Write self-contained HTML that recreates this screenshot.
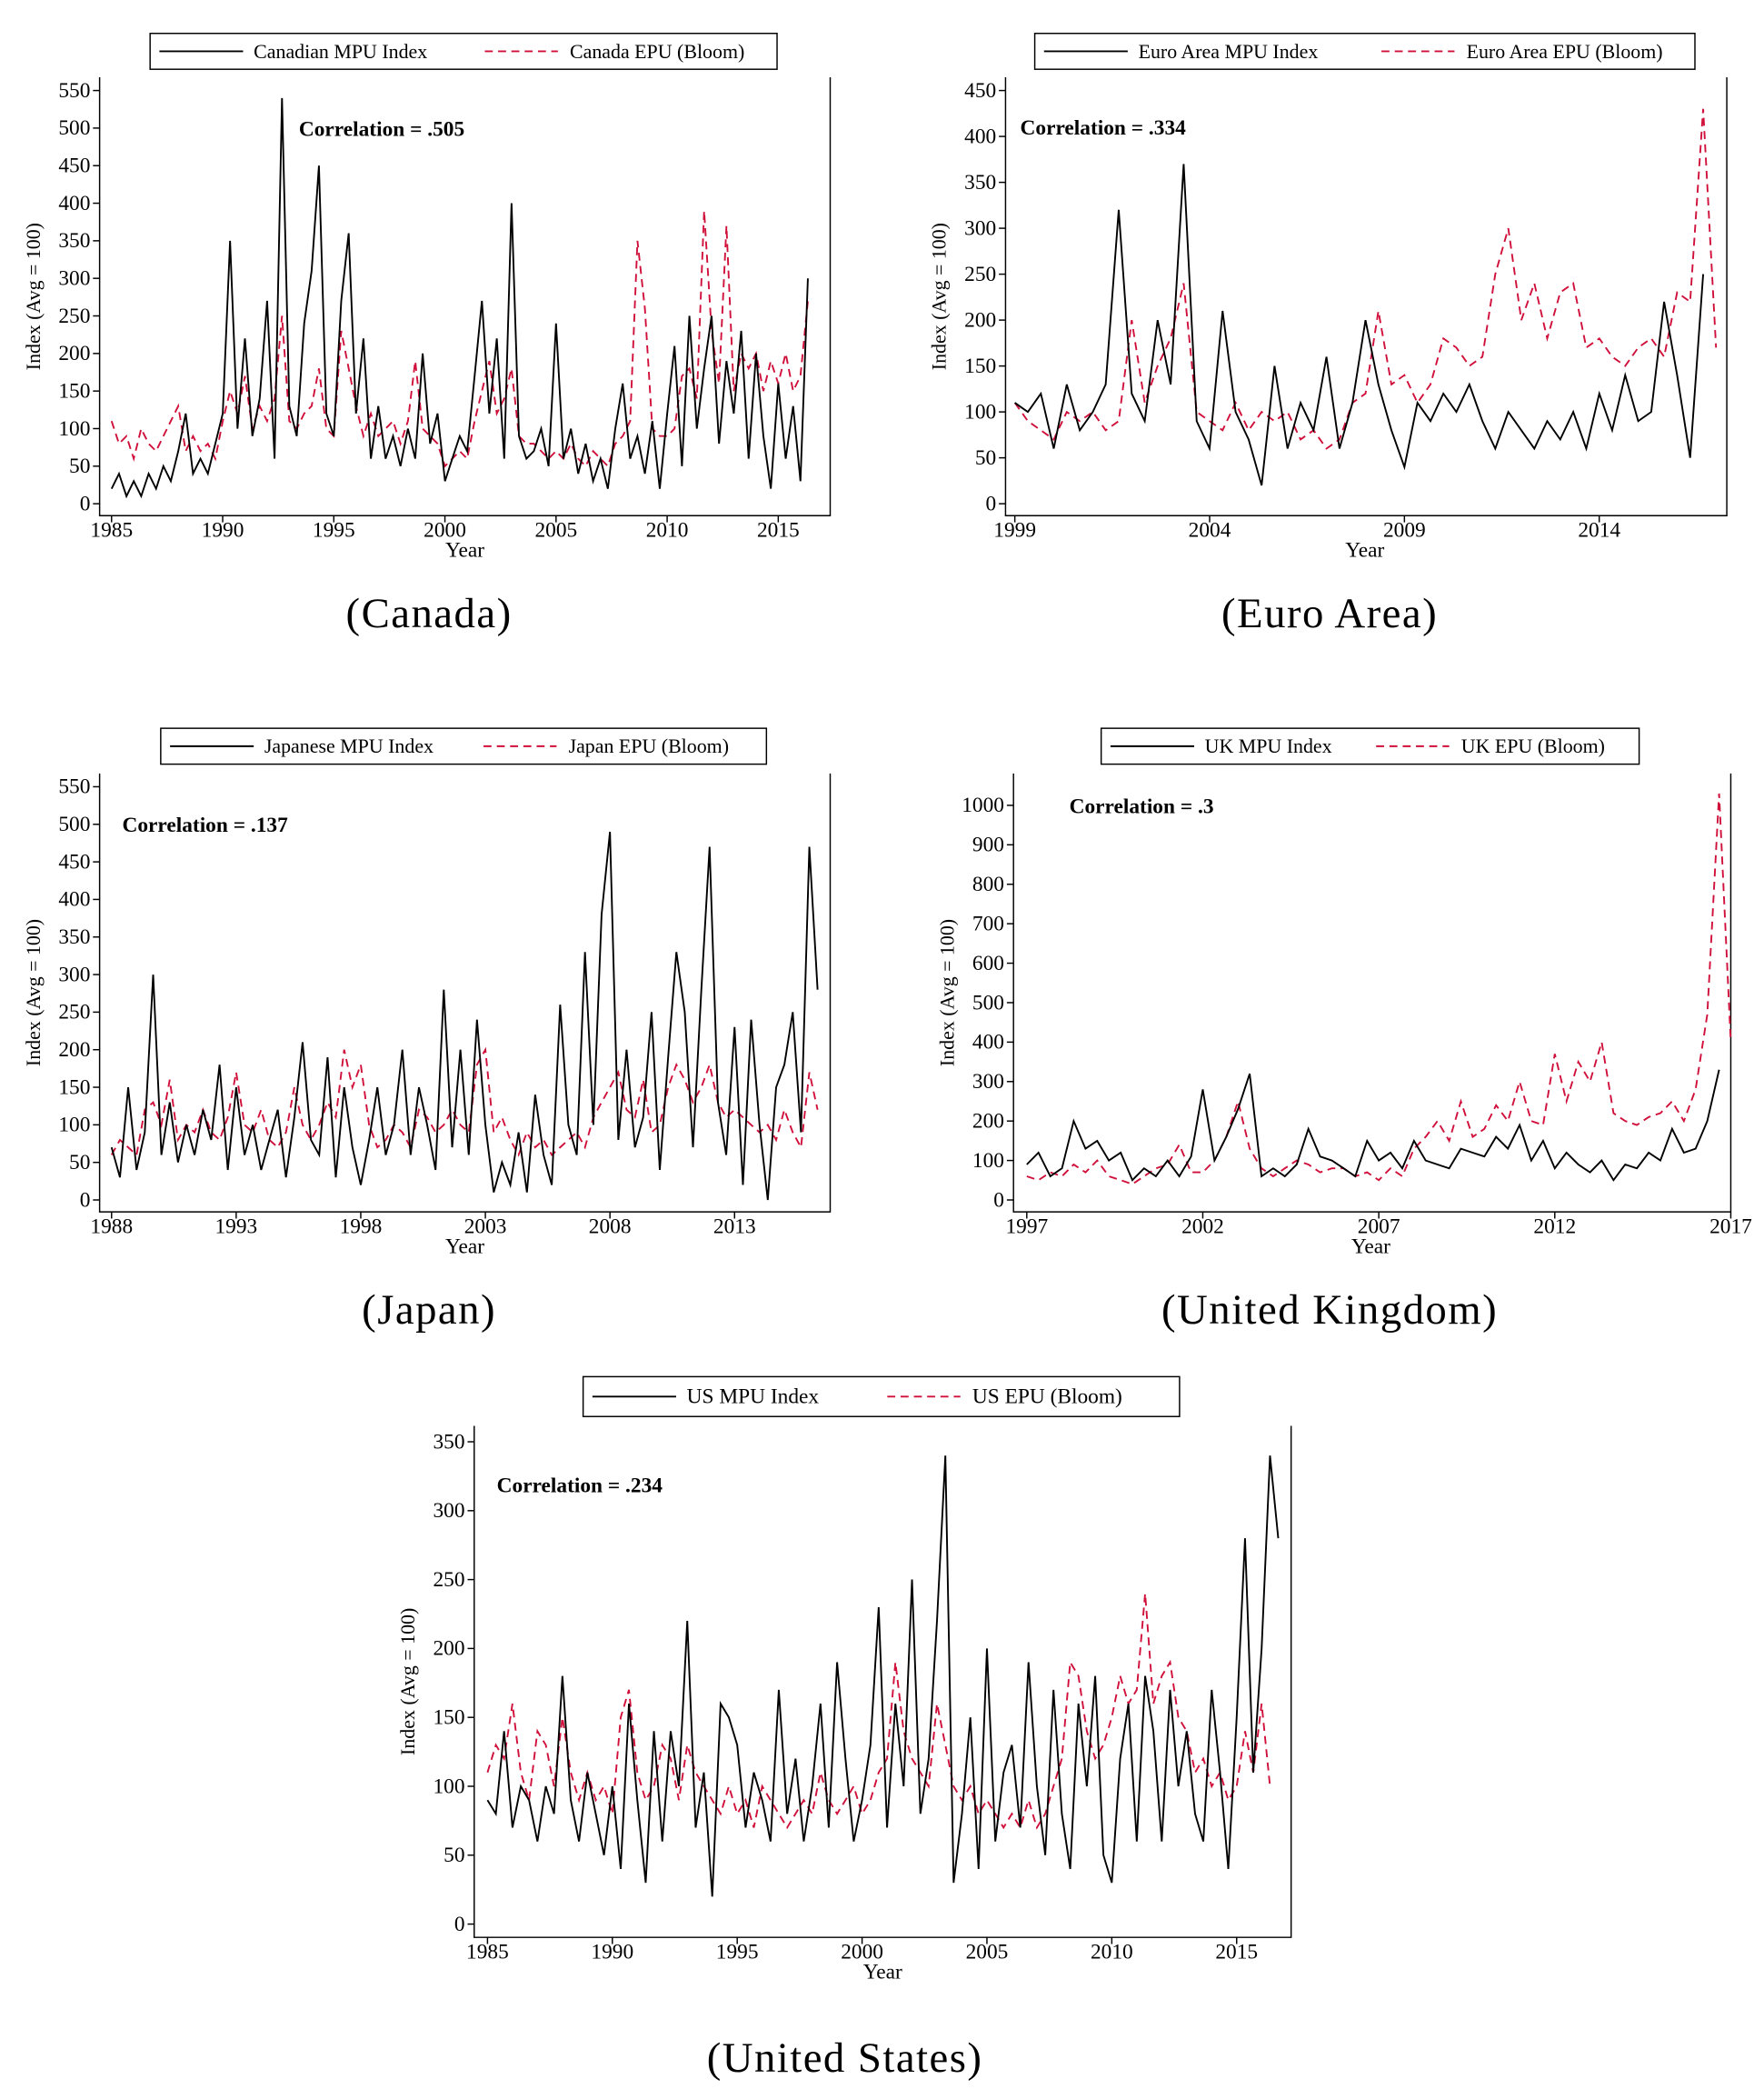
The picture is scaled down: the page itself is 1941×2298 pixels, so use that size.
<!DOCTYPE html>
<html><head><meta charset="utf-8"><style>
html,body{margin:0;padding:0;background:#fff;}
svg{display:block;}
text{font-family:"Liberation Serif",serif;fill:#000;}
</style></head><body>
<svg id="fig" width="1941" height="2298" viewBox="0 0 1328 1572" xmlns="http://www.w3.org/2000/svg"></svg>
<script>
// ---- data (sampled ~3 points per year) ----
const caMPU=[20,40,10,30,10,40,20,50,30,70,120,40,60,40,80,120,350,100,220,90,140,270,60,540,130,90,240,310,450,120,90,270,360,120,220,60,130,60,90,50,100,60,200,80,120,30,60,90,70,170,270,120,220,60,400,90,60,70,100,50,240,60,100,40,80,30,60,20,100,160,60,90,40,110,20,120,210,50,250,100,180,250,80,190,120,230,60,200,90,20,160,60,130,30,300];
const caEPU=[110,80,90,60,100,80,70,90,110,130,70,90,70,80,60,110,150,120,170,100,130,110,140,250,110,100,120,130,180,100,90,230,180,130,90,120,90,100,110,80,110,190,100,90,80,50,60,70,60,110,150,190,120,140,180,90,80,80,70,60,70,60,80,60,50,70,60,50,80,90,110,350,260,100,90,90,100,170,180,140,390,230,160,370,150,200,180,200,150,190,160,200,150,170,270];
const euMPU=[110,100,120,60,130,80,100,130,320,120,90,200,130,370,90,60,210,100,70,20,150,60,110,80,160,60,110,200,130,80,40,110,90,120,100,130,90,60,100,80,60,90,70,100,60,120,80,140,90,100,220,140,50,250];
const euEPU=[110,90,80,70,100,90,100,80,90,200,110,150,180,240,100,90,80,110,80,100,90,100,70,80,60,70,110,120,210,130,140,110,130,180,170,150,160,250,300,200,240,180,230,240,170,180,160,150,170,180,160,230,220,430,170];
const jpMPU=[70,30,150,40,90,300,60,130,50,100,60,120,80,180,40,150,60,100,40,80,120,30,110,210,80,60,190,30,150,70,20,80,150,60,100,200,60,150,100,40,280,70,200,60,240,100,10,50,20,90,10,140,60,20,260,100,60,330,100,380,490,80,200,70,110,250,40,190,330,250,70,280,470,130,60,230,20,240,100,0,150,180,250,90,470,280];
const jpEPU=[60,80,70,60,120,130,100,160,80,100,90,120,90,80,110,170,100,90,120,80,70,90,150,100,80,100,130,110,200,150,180,100,70,80,100,90,70,120,110,90,100,120,100,90,180,200,90,110,80,60,90,70,80,60,70,80,90,70,110,130,150,170,120,110,160,90,100,150,180,160,130,150,180,130,110,120,110,100,90,100,80,120,90,70,170,120];
const ukMPU=[90,120,60,80,200,130,150,100,120,50,80,60,100,60,110,280,100,160,230,320,60,80,60,90,180,110,100,80,60,150,100,120,80,150,100,90,80,130,120,110,160,130,190,100,150,80,120,90,70,100,50,90,80,120,100,180,120,130,200,330];
const ukEPU=[60,50,70,60,90,70,100,60,50,40,60,80,90,140,70,70,100,160,250,130,80,60,80,100,90,70,80,80,60,70,50,80,60,130,160,200,150,250,160,180,240,200,300,200,190,370,250,350,300,400,220,200,190,210,220,250,200,280,470,1030,400];
const usMPU=[90,80,140,70,100,90,60,100,80,180,90,60,110,80,50,100,40,160,90,30,140,60,140,100,220,70,110,20,160,150,130,70,110,90,60,170,80,120,60,100,160,70,190,120,60,90,130,230,70,160,100,250,80,120,220,340,30,80,150,40,200,60,110,130,70,190,100,50,170,80,40,160,100,180,50,30,120,160,60,180,140,60,170,100,140,80,60,170,110,40,150,280,110,200,340,280];
const usEPU=[110,130,120,160,110,90,140,130,100,150,110,90,110,90,100,80,150,170,110,90,100,130,120,90,130,110,100,90,80,100,80,90,70,100,90,80,70,80,90,80,110,90,80,90,100,80,90,110,120,190,140,120,110,100,160,130,100,90,100,80,90,80,70,80,70,90,70,80,100,120,190,180,140,120,130,150,180,160,170,240,160,180,190,150,140,110,120,100,110,90,100,140,110,160,100];
const caTicksY=[0,50,100,150,200,250,300,350,400,450,500,550];
const caTicksX=[1985,1990,1995,2000,2005,2010,2015];
const euTicksY=[0,50,100,150,200,250,300,350,400,450];
const euTicksX=[1999,2004,2009,2014];
const jpTicksY=caTicksY;
const jpTicksX=[1988,1993,1998,2003,2008,2013];
const ukTicksY=[0,100,200,300,400,500,600,700,800,900,1000];
const ukTicksX=[1997,2002,2007,2012,2017];
const usTicksY=[0,50,100,150,200,250,300,350];
const usTicksX=[1985,1990,1995,2000,2005,2010,2015];

const NS="http://www.w3.org/2000/svg";
const svg=document.getElementById('fig');
function el(tag,attrs,parent){const e=document.createElementNS(NS,tag);for(const k in attrs)e.setAttribute(k,attrs[k]);(parent||svg).appendChild(e);return e;}
function txt(s,attrs,parent){const e=el('text',attrs,parent);e.textContent=s;return e;}
const RED="#d0103a";

function chart(c){
  const g=el('g',{});
  
  
  const X=yr=>c.x0px+(yr-c.x0yr)*c.ppy;
  const Y=v=>c.y0px-v*c.ppv;
  const ax=el('path',{d:`M${c.left},${c.top}V${c.bottom}H${c.right}V${c.top}`,fill:'none',stroke:'#000','stroke-width':1},g);
  
  
  c.ty.forEach(v=>{
    el('line',{x1:c.left-5,x2:c.left,y1:Y(v),y2:Y(v),stroke:'#000'},g);
    const t=txt(String(v),{x:c.left-7,y:Y(v)+5,'font-size':16,'text-anchor':'end'},g);
    
    
  });
  c.tx.forEach(v=>{
    el('line',{x1:X(v),x2:X(v),y1:c.bottom,y2:c.bottom+5,stroke:'#000'},g);
    const t=txt(String(v),{x:X(v),y:c.bottom+16,'font-size':16,'text-anchor':'middle'},g);
    
    
  });
  const yt=txt('Index (Avg = 100)',{x:0,y:0,'font-size':15,'text-anchor':'middle',transform:`translate(${c.left-45},${(c.top+c.bottom)/2}) rotate(-90)`},g);
  
  
  const xt=txt('Year',{x:(c.left+c.right)/2+c.yearDx,y:c.bottom+31,'font-size':16,'text-anchor':'middle'},g);
  
  
  const path=(arr,s0)=>arr.map((v,i)=>(i?'L':'M')+X(s0+i/3).toFixed(1)+','+Y(v).toFixed(1)).join('');
  const e=el('path',{d:path(c.epu,c.x0yr),fill:'none',stroke:RED,'stroke-width':1.3,'stroke-dasharray':'6,4'},g);
  
  
  const m=el('path',{d:path(c.mpu,c.x0yr),fill:'none',stroke:'#000','stroke-width':1.3},g);
  
  
  const cr=txt(c.corr,{x:c.cx,y:c.cy,'font-size':16,'font-weight':'bold'},g);
  
  
  const L=c.leg;
  const lg=el('g',{},g);
  
  
  el('rect',{x:L.x,y:L.y,width:L.w,height:L.h,fill:'#fff',stroke:'#000'},lg);
  const my=L.y+L.h/2;
  el('line',{x1:L.x+7,x2:L.x+70,y1:my,y2:my,stroke:'#000','stroke-width':1.3},lg);
  const t1=txt(c.l1,{x:L.x+78,y:my+5,'font-size':L.fs},lg);
  
  
  el('line',{x1:L.x2,x2:L.x2+55,y1:my,y2:my,stroke:RED,'stroke-width':1.3,'stroke-dasharray':'6,4'},lg);
  const t2=txt(c.l2,{x:L.x2+64,y:my+5,'font-size':L.fs},lg);
  
  
  const cap=txt(c.cap,{x:c.capx,y:c.capy,'font-size':32,'text-anchor':'middle','letter-spacing':1},g);
  
  
}

chart({name:'canada',left:75,right:625,top:58,bottom:388,x0yr:1985,x0px:84,ppy:16.73,y0px:379,ppv:311/550,ty:caTicksY,tx:caTicksX,mpu:caMPU,epu:caEPU,corr:'Correlation = .505',cx:225,cy:102,yearDx:0,
  leg:{x:113,y:25,w:472,h:27,x2:365,fs:15},l1:'Canadian MPU Index',l2:'Canada EPU (Bloom)',cap:'(Canada)',capx:323,capy:472});
chart({name:'euro-area',left:757,right:1300,top:58,bottom:388,x0yr:1999,x0px:764,ppy:29.33,y0px:379,ppv:311/450,ty:euTicksY,tx:euTicksX,mpu:euMPU,epu:euEPU,corr:'Correlation = .334',cx:768,cy:101,yearDx:-1,
  leg:{x:779,y:25,w:497,h:27,x2:1040,fs:15},l1:'Euro Area MPU Index',l2:'Euro Area EPU (Bloom)',cap:'(Euro Area)',capx:1001,capy:472});
chart({name:'japan',left:75,right:625,top:582,bottom:912,x0yr:1988,x0px:84,ppy:18.76,y0px:903,ppv:311/550,ty:jpTicksY,tx:jpTicksX,mpu:jpMPU,epu:jpEPU,corr:'Correlation = .137',cx:92,cy:626,yearDx:0,
  leg:{x:121,y:548,w:456,h:27,x2:364,fs:15},l1:'Japanese MPU Index',l2:'Japan EPU (Bloom)',cap:'(Japan)',capx:323,capy:996});
chart({name:'uk',left:763,right:1303,top:582,bottom:912,x0yr:1997,x0px:773,ppy:26.5,y0px:903,ppv:297/1000,ty:ukTicksY,tx:ukTicksX,mpu:ukMPU,epu:ukEPU,corr:'Correlation = .3',cx:805,cy:612,yearDx:-1,
  leg:{x:829,y:548,w:405,h:27,x2:1036,fs:15},l1:'UK MPU Index',l2:'UK EPU (Bloom)',cap:'(United Kingdom)',capx:1001,capy:996});
chart({name:'us',left:357,right:972,top:1073,bottom:1458,x0yr:1985,x0px:367,ppy:18.8,y0px:1448,ppv:363/350,ty:usTicksY,tx:usTicksX,mpu:usMPU,epu:usEPU,corr:'Correlation = .234',cx:374,cy:1123,yearDx:0,
  leg:{x:439,y:1036,w:449,h:30,x2:668,fs:16},l1:'US MPU Index',l2:'US EPU (Bloom)',cap:'(United States)',capx:636,capy:1559});
</script>
</body></html>
